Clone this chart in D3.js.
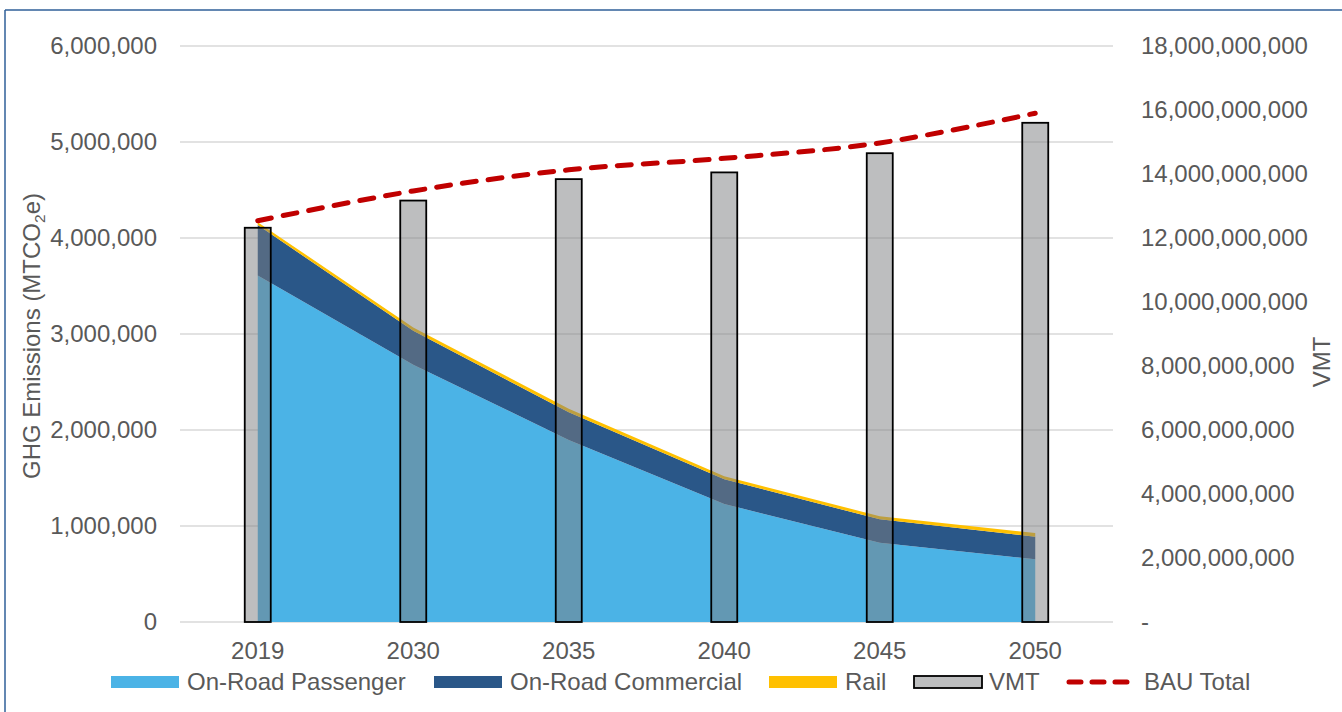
<!DOCTYPE html>
<html>
<head>
<meta charset="utf-8">
<script src="https://cdn.jsdelivr.net/npm/d3@7"></script>
<style>
  html, body { margin: 0; padding: 0; background: #ffffff; }
  svg { display: block; }
  text { font-family: "Liberation Sans", Arial, sans-serif; fill: #595959; }
</style>
</head>
<body>
<svg id="chart" width="1342" height="712"></svg>
<script>
// Transportation GHG emissions by source (left axis) and vehicle miles travelled (right axis)
const years = ["2019", "2030", "2035", "2040", "2045", "2050"];
const passenger = [3610000, 2680000, 1896000, 1229000, 826000, 653000];
const commercial = [525000, 354000, 288000, 257000, 244000, 236000];
const rail = [30000, 35000, 38000, 32000, 32000, 38000];
const bauTotal = [4180000, 4490000, 4710000, 4830000, 4990000, 5300000];
const vmt = [12320000000, 13170000000, 13840000000, 14050000000, 14650000000, 15600000000];

const leftTicks = [0, 1000000, 2000000, 3000000, 4000000, 5000000, 6000000];
const rightTicks = [0, 2e9, 4e9, 6e9, 8e9, 10e9, 12e9, 14e9, 16e9, 18e9];

const colors = {
  passenger: "#4bb3e6",
  commercial: "#2a5788",
  rail: "#ffc000",
  vmt: "#7c7d80",
  bau: "#c00000",
  grid: "#d9d9d9"
};

const FS = "24px";
const svg = d3.select("#chart");
const plot = { left: 180, right: 1113, top: 46, bottom: 622 };

// frame lines
svg.append("line").attr("x1", 5).attr("x2", 5).attr("y1", 10).attr("y2", 712)
  .attr("stroke", "#2f5f98").attr("stroke-width", 1.5);
svg.append("line").attr("x1", 5).attr("x2", 1342).attr("y1", 10).attr("y2", 10)
  .attr("stroke", "#2f5f98").attr("stroke-width", 1.5);

const x = d3.scalePoint().domain(years).range([plot.left, plot.right]).padding(0.5);
const yL = d3.scaleLinear().domain([0, 6000000]).range([plot.bottom, plot.top]);
const yR = d3.scaleLinear().domain([0, 18e9]).range([plot.bottom, plot.top]);

// gridlines
svg.append("g").selectAll("line").data(leftTicks).join("line")
  .attr("x1", plot.left).attr("x2", plot.right)
  .attr("y1", d => yL(d)).attr("y2", d => yL(d))
  .attr("stroke", colors.grid).attr("stroke-width", 1.5);

// stacked areas
const rows = years.map((yr, i) => ({ year: yr, passenger: passenger[i], commercial: commercial[i], rail: rail[i] }));
const stack = d3.stack().keys(["passenger", "commercial", "rail"])(rows);
const area = d3.area()
  .x(d => x(d.data.year))
  .y0(d => yL(d[0]))
  .y1(d => yL(d[1]));
svg.append("g").selectAll("path").data(stack).join("path")
  .attr("d", area)
  .attr("fill", d => colors[d.key]);

// VMT bars (semi-transparent, on the right axis)
const barW = 26;
svg.append("g").selectAll("rect").data(years).join("rect")
  .attr("x", (d) => x(d) - barW / 2)
  .attr("width", barW)
  .attr("y", (d, i) => yR(vmt[i]))
  .attr("height", (d, i) => yR(0) - yR(vmt[i]))
  .attr("fill", colors.vmt).attr("fill-opacity", 0.5)
  .attr("stroke", "#000").attr("stroke-width", 1.8);

// BAU total line
const line = d3.line()
  .x((d, i) => x(years[i]))
  .y(d => yL(d))
  .curve(d3.curveCardinal.tension(0));
svg.append("path").datum(bauTotal)
  .attr("d", line)
  .attr("fill", "none")
  .attr("stroke", colors.bau).attr("stroke-width", 5)
  .attr("stroke-linecap", "round")
  .attr("stroke-dasharray", "14,12");

// left axis labels
svg.append("g").selectAll("text").data(leftTicks).join("text")
  .attr("x", plot.left - 23).attr("y", d => yL(d))
  .attr("dy", "0.35em").attr("text-anchor", "end")
  .style("font-size", FS)
  .text(d => d3.format(",")(d));

// right axis labels
svg.append("g").selectAll("text").data(rightTicks).join("text")
  .attr("x", plot.right + 28).attr("y", d => yR(d))
  .attr("dy", "0.35em").attr("text-anchor", "start")
  .style("font-size", FS)
  .text(d => d === 0 ? "-" : d3.format(",")(d));

// category labels
svg.append("g").selectAll("text").data(years).join("text")
  .attr("x", d => x(d)).attr("y", 659)
  .attr("text-anchor", "middle")
  .style("font-size", FS)
  .text(d => d);

// axis titles
const yTitle = svg.append("text")
  .attr("transform", `translate(40,${(plot.top + plot.bottom) / 2 + 2}) rotate(-90)`)
  .attr("text-anchor", "middle")
  .style("font-size", FS);
yTitle.append("tspan").text("GHG Emissions (MTCO");
yTitle.append("tspan").text("2").style("font-size", "15.5px").attr("dy", 5);
yTitle.append("tspan").text("e)").attr("dy", -5);

svg.append("text")
  .attr("transform", `translate(1330,362) rotate(-90)`)
  .attr("text-anchor", "middle")
  .style("font-size", FS)
  .text("VMT");

// legend
const legendY = 682;
const legendItems = [
  { label: "On-Road Passenger", kind: "area", color: colors.passenger, x: 111 },
  { label: "On-Road Commercial", kind: "area", color: colors.commercial, x: 434 },
  { label: "Rail", kind: "area", color: colors.rail, x: 769 },
  { label: "VMT", kind: "bar", color: colors.vmt, x: 914 },
  { label: "BAU Total", kind: "line", color: colors.bau, x: 1066 }
];
const lg = svg.append("g").selectAll("g").data(legendItems).join("g");
lg.each(function (d) {
  const g = d3.select(this);
  if (d.kind === "area") {
    g.append("rect").attr("x", d.x).attr("y", legendY - 6).attr("width", 68).attr("height", 12)
      .attr("fill", d.color);
    g.append("text").attr("x", d.x + 76).attr("y", legendY).attr("dy", "0.35em")
      .style("font-size", FS).text(d.label);
  } else if (d.kind === "bar") {
    g.append("rect").attr("x", d.x).attr("y", legendY - 6).attr("width", 68).attr("height", 12)
      .attr("fill", d.color).attr("fill-opacity", 0.5)
      .attr("stroke", "#000").attr("stroke-width", 1.8);
    g.append("text").attr("x", d.x + 75).attr("y", legendY).attr("dy", "0.35em")
      .style("font-size", FS).text(d.label);
  } else {
    g.append("line").attr("x1", d.x + 3).attr("x2", d.x + 66)
      .attr("y1", legendY).attr("y2", legendY)
      .attr("stroke", d.color).attr("stroke-width", 5)
      .attr("stroke-linecap", "round").attr("stroke-dasharray", "12,11");
    g.append("text").attr("x", d.x + 78).attr("y", legendY).attr("dy", "0.35em")
      .style("font-size", FS).text(d.label);
  }
});
</script>
</body>
</html>
